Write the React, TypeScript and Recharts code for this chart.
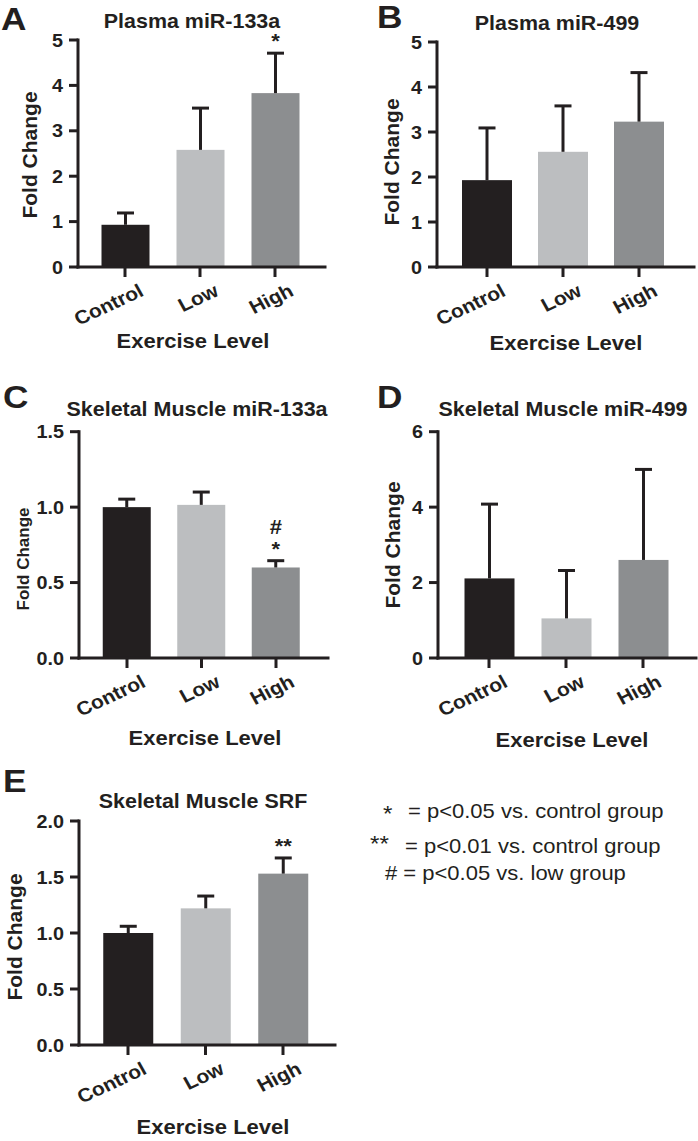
import { Bar, BarChart, Cell, XAxis, YAxis } from 'recharts'

// groups on the x axis, same for every panel
const CATEGORIES = ['Control', 'Low', 'High']

// A: Plasma miR-133a
const A_MEAN = [0.93, 2.58, 3.83]
const A_SEM = [0.26, 0.92, 0.88]
const A_SIG = [[], [], ['*']]
const A_TICKS = [0, 1, 2, 3, 4, 5]

// B: Plasma miR-499
const B_MEAN = [1.93, 2.56, 3.23]
const B_SEM = [1.16, 1.02, 1.09]
const B_SIG = [[], [], []]
const B_TICKS = [0, 1, 2, 3, 4, 5]

// C: Skeletal Muscle miR-133a
const C_MEAN = [1.0, 1.015, 0.6]
const C_SEM = [0.053, 0.085, 0.045]
const C_SIG = [[], [], ['*', '#']]
const C_TICKS = [0, 0.5, 1.0, 1.5]

// D: Skeletal Muscle miR-499
const D_MEAN = [2.11, 1.05, 2.6]
const D_SEM = [1.97, 1.27, 2.4]
const D_SIG = [[], [], []]
const D_TICKS = [0, 2, 4, 6]

// E: Skeletal Muscle SRF
const E_MEAN = [1.0, 1.22, 1.53]
const E_SEM = [0.06, 0.11, 0.14]
const E_SIG = [[], [], ['**']]
const E_TICKS = [0, 0.5, 1.0, 1.5, 2.0]

const LEGEND = [
  { mark: '*', text: '= p<0.05 vs. control group' },
  { mark: '**', text: '= p<0.01 vs. control group' },
  { mark: '#', text: '= p<0.05 vs. low group' },
]

const INK = '#231f20'
const FILLS = ['#231f20', '#bcbec0', '#8c8e90']
const FONT = '"Liberation Sans", Arial, Helvetica, sans-serif'
const SX = 1.1 // the figure's lettering is a little wide
const X_AXIS_H = 60

function BarWithError(props: any) {
  const { x, y, width, height, payload, fill } = props
  const perUnit = payload.mean > 0 ? height / payload.mean : 0
  const cx = x + width / 2
  const top = y - payload.sem * perUnit
  return (
    <g>
      <rect x={x} y={y} width={width} height={height} fill={fill} />
      <line x1={cx} x2={cx} y1={y} y2={top} stroke={INK} strokeWidth={3} />
      <line x1={cx - 8.5} x2={cx + 8.5} y1={top} y2={top} stroke={INK} strokeWidth={3} />
      {payload.sig.map((s: string, i: number) => (
        <text
          key={i}
          transform={`translate(${cx},${top - 5 - i * 22}) scale(${SX},1)`}
          textAnchor="middle"
          fontSize={20}
          fontWeight="bold"
          fontFamily={FONT}
          fill={INK}
        >
          {s}
        </text>
      ))}
    </g>
  )
}

function XTick({ x, y, payload }: any) {
  return (
    <text
      transform={`translate(${x + 20},${y + 18}) scale(${SX},1) rotate(-27)`}
      textAnchor="end"
      fontSize={19}
      fontWeight="bold"
      fontFamily={FONT}
      fill={INK}
    >
      {payload.value}
    </text>
  )
}

function makeYTick(decimals: number) {
  return ({ x, y, payload }: any) => (
    <text
      transform={`translate(${x},${y + 6.5}) scale(${SX},1)`}
      textAnchor="end"
      fontSize={18}
      fontWeight="bold"
      fontFamily={FONT}
      fill={INK}
    >
      {Number(payload.value).toFixed(decimals)}
    </text>
  )
}

interface PanelCfg {
  left: number
  top: number
  width: number
  height: number
  margin: { top: number; right: number; bottom: number; left: number }
  padding: { left: number; right: number }
  barSize: number
  mean: number[]
  sem: number[]
  sig: string[][]
  ticks: number[]
  decimals: number
}

const PANELS: PanelCfg[] = [
  { left: 0, top: 0, width: 349, height: 380, margin: { top: 40, right: 24, bottom: 53, left: 18 }, padding: { left: 9.5, right: 12.5 }, barSize: 48, mean: A_MEAN, sem: A_SEM, sig: A_SIG, ticks: A_TICKS, decimals: 0 },
  { left: 349, top: 0, width: 349, height: 380, margin: { top: 42, right: 4, bottom: 53, left: 28 }, padding: { left: 12, right: 17 }, barSize: 50, mean: B_MEAN, sem: B_SEM, sig: B_SIG, ticks: B_TICKS, decimals: 0 },
  { left: 0, top: 380, width: 349, height: 380, margin: { top: 51.7, right: 21, bottom: 42, left: 19 }, padding: { left: 10.75, right: 14.75 }, barSize: 48, mean: C_MEAN, sem: C_SEM, sig: C_SIG, ticks: C_TICKS, decimals: 1 },
  { left: 349, top: 380, width: 349, height: 380, margin: { top: 51.7, right: 2, bottom: 42, left: 29 }, padding: { left: 12.5, right: 14.5 }, barSize: 50, mean: D_MEAN, sem: D_SEM, sig: D_SIG, ticks: D_TICKS, decimals: 0 },
  { left: 0, top: 760, width: 349, height: 381, margin: { top: 61, right: 14, bottom: 36, left: 19 }, padding: { left: 10.25, right: 13.25 }, barSize: 50, mean: E_MEAN, sem: E_SEM, sig: E_SIG, ticks: E_TICKS, decimals: 1 },
]

// lettering placed over the charts: panel letters, titles, axis titles
const LETTERS = [
  { t: 'A', x: 1, y: 30 },
  { t: 'B', x: 377, y: 28 },
  { t: 'C', x: 3, y: 408 },
  { t: 'D', x: 377, y: 408 },
  { t: 'E', x: 3, y: 792 },
]
const TITLES = [
  { t: 'Plasma miR-133a', x: 192, y: 28 },
  { t: 'Plasma miR-499', x: 557, y: 30 },
  { t: 'Skeletal Muscle miR-133a', x: 197, y: 416 },
  { t: 'Skeletal Muscle miR-499', x: 563, y: 416 },
  { t: 'Skeletal Muscle SRF', x: 203, y: 808 },
]
const X_TITLES = [
  { x: 193, y: 348 },
  { x: 566, y: 350 },
  { x: 205, y: 745 },
  { x: 572, y: 747 },
  { x: 213, y: 1134 },
]
const Y_TITLES = [
  { x: 37, y: 155, size: 21 },
  { x: 399, y: 162, size: 21 },
  { x: 29, y: 559, size: 17 },
  { x: 400, y: 545, size: 21 },
  { x: 22, y: 937, size: 21 },
]

function Panel({ cfg }: { cfg: PanelCfg }) {
  const data = CATEGORIES.map((name, i) => ({ name, mean: cfg.mean[i], sem: cfg.sem[i], sig: cfg.sig[i] }))
  const max = cfg.ticks[cfg.ticks.length - 1]
  return (
    <div style={{ position: 'absolute', left: cfg.left, top: cfg.top }}>
      <BarChart width={cfg.width} height={cfg.height} data={data} margin={cfg.margin}>
        <Bar dataKey="mean" barSize={cfg.barSize} shape={BarWithError} isAnimationActive={false}>
          {data.map((d, i) => (
            <Cell key={d.name} fill={FILLS[i]} />
          ))}
        </Bar>
        <XAxis
          dataKey="name"
          padding={cfg.padding}
          tickSize={10}
          tickMargin={0}
          tick={XTick}
          interval={0}
          height={X_AXIS_H}
          axisLine={{ stroke: INK, strokeWidth: 3, strokeLinecap: 'square' }}
          tickLine={{ stroke: INK, strokeWidth: 3 }}
        />
        <YAxis
          type="number"
          domain={[0, max]}
          ticks={cfg.ticks}
          width={60}
          tickSize={9}
          tickMargin={6}
          tick={makeYTick(cfg.decimals)}
          axisLine={{ stroke: INK, strokeWidth: 3, strokeLinecap: 'square' }}
          tickLine={{ stroke: INK, strokeWidth: 3 }}
        />
      </BarChart>
    </div>
  )
}

export default function App() {
  return (
    <div style={{ position: 'absolute', left: 0, top: 0, width: 698, height: 1141, background: '#fff', fontFamily: FONT }}>
      {PANELS.map((p, i) => (
        <Panel key={i} cfg={p} />
      ))}
      <svg width={698} height={1141} style={{ position: 'absolute', left: 0, top: 0, pointerEvents: 'none' }}>
        <g fontFamily={FONT} fill={INK} fontWeight="bold">
          {LETTERS.map((l) => (
            <text key={l.t} transform={`translate(${l.x},${l.y}) scale(${SX},1)`} fontSize={32}>
              {l.t}
            </text>
          ))}
          {TITLES.map((t) => (
            <text key={t.t} transform={`translate(${t.x},${t.y}) scale(${SX},1)`} fontSize={19.5} textAnchor="middle">
              {t.t}
            </text>
          ))}
          {X_TITLES.map((t, i) => (
            <text key={i} transform={`translate(${t.x},${t.y}) scale(${SX},1)`} fontSize={20} textAnchor="middle">
              Exercise Level
            </text>
          ))}
          {Y_TITLES.map((t, i) => (
            <text key={i} transform={`translate(${t.x},${t.y}) rotate(-90)`} fontSize={t.size} textAnchor="middle">
              Fold Change
            </text>
          ))}
        </g>
        <g fontFamily={FONT} fill={INK}>
          <text transform={`translate(383,821) scale(${SX},1)`} fontSize={22}>{LEGEND[0].mark}</text>
          <text transform={`translate(408,818) scale(${SX},1)`} fontSize={20}>{LEGEND[0].text}</text>
          <text transform={`translate(370,851) scale(${SX},1)`} fontSize={22}>{LEGEND[1].mark}</text>
          <text transform={`translate(405,853) scale(${SX},1)`} fontSize={20}>{LEGEND[1].text}</text>
          <text transform={`translate(385,880) scale(${SX},1)`} fontSize={20}>
            {LEGEND[2].mark + ' ' + LEGEND[2].text}
          </text>
        </g>
      </svg>
    </div>
  )
}
